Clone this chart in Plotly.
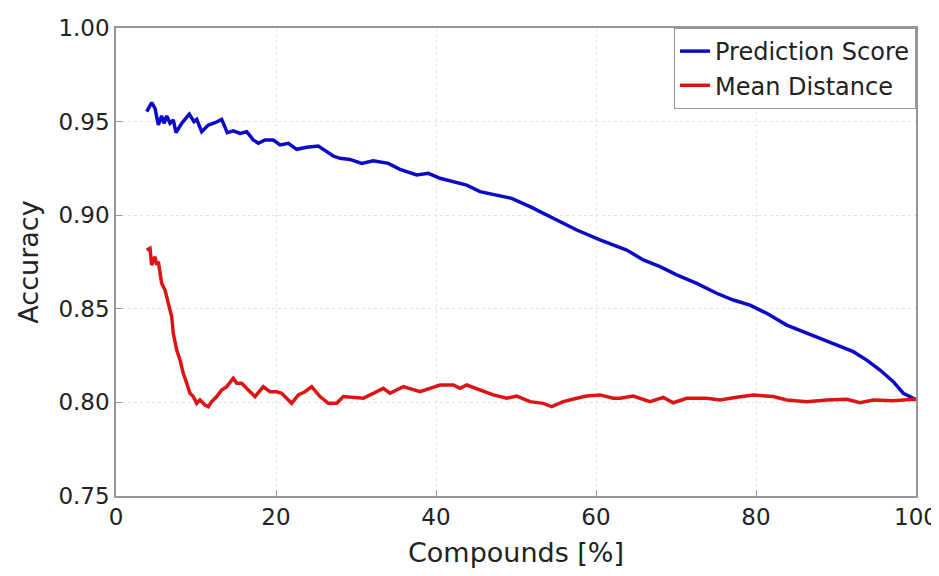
import plotly.graph_objects as go

# Prediction Score curve (x in %, accuracy)
pred_x = [3.84, 4.46, 4.88, 5.29, 5.71, 6.0, 6.34, 6.75, 7.16, 7.5,
          8.21, 9.16, 9.75, 10.09, 10.71, 11.54, 12.38, 13.21, 13.91, 14.66,
          15.5, 16.34, 17.16, 17.79, 18.63, 19.66, 20.5, 21.54, 22.59, 23.84,
          25.29, 26.13, 27.16, 28.0,
          29.25, 30.71, 32.16, 34.04, 35.5, 37.59, 39.04, 40.5, 42.16, 43.84,
          45.5, 47.59, 49.46, 51.75, 53.84, 55.91, 57.59,
          60.5, 62.16, 63.84, 65.91, 68.0, 70.09, 72.59, 75.09, 77.16, 79.25,
          81.34, 83.84, 85.91, 88.0, 90.09, 92.16, 93.84, 95.5, 97.16, 98.41,
          99.66, 100]
pred_y = [0.9553, 0.9601, 0.9571, 0.9482, 0.953, 0.9491, 0.953, 0.9491, 0.9509, 0.9441,
          0.9491, 0.954, 0.95, 0.9512, 0.9446, 0.9482, 0.9494, 0.9512, 0.9441, 0.9451,
          0.9437, 0.9446, 0.9402, 0.9384, 0.9402, 0.9402, 0.9375, 0.9384, 0.9352, 0.9363,
          0.937, 0.9348, 0.9316, 0.9304,
          0.9298, 0.9277, 0.9291, 0.9277, 0.9245, 0.9215, 0.9224, 0.9197, 0.9179, 0.9161,
          0.9126, 0.9108, 0.909, 0.9046, 0.9001, 0.8957, 0.8921,
          0.8868, 0.8841, 0.8814, 0.8761, 0.8725, 0.8681, 0.8636, 0.8583, 0.8547, 0.852,
          0.8476, 0.8413, 0.8378, 0.8342, 0.8307, 0.8271, 0.8226, 0.8173, 0.8111, 0.8049,
          0.8022, 0.8015]

# Mean Distance curve
dist_x = [3.84, 4.25, 4.46, 4.88, 5.09, 5.29, 5.71, 6.13, 6.54, 6.96,
          7.16, 7.59, 8.0, 8.41, 8.84, 9.25, 9.66, 10.09, 10.5, 11.13,
          11.54, 11.96, 12.59, 13.21, 13.84, 14.66, 15.09, 15.71, 16.54, 17.38,
          18.41, 19.25, 20.09, 20.71, 21.96, 22.79, 23.63, 24.46, 25.5, 26.54,
          27.59,
          28.41, 30.91, 33.41, 34.25, 35.91, 38.0, 40.5, 42.16, 43.0, 43.84,
          45.5, 47.16, 48.84, 50.09, 51.75, 53.41, 54.46, 55.91, 57.59, 58.84,
          60.5, 62.16,
          63.0, 64.66, 66.75, 68.41, 69.66, 71.34, 73.84, 75.5, 77.59, 79.66,
          82.16, 83.84, 86.34, 88.84, 91.34, 93.0, 94.66, 97.16, 99.66, 100]
dist_y = [0.8814, 0.8823, 0.8734, 0.8778, 0.8734, 0.8752, 0.8636, 0.86, 0.8529, 0.8458,
          0.8369, 0.828, 0.8227, 0.8155, 0.8102, 0.8049, 0.8031, 0.7995, 0.8013, 0.7986,
          0.7977, 0.8004, 0.8031, 0.8066, 0.8084, 0.8129, 0.8102, 0.8102, 0.8066, 0.8031,
          0.8084, 0.8057, 0.8057, 0.8049, 0.7995, 0.804, 0.8057, 0.8084, 0.8031, 0.7995,
          0.7995,
          0.8031, 0.8022, 0.8075, 0.8049, 0.8084, 0.8057, 0.8093, 0.8093, 0.8075, 0.8093,
          0.8066, 0.804, 0.8022, 0.8034, 0.8004, 0.7995, 0.7977, 0.8004, 0.8022, 0.8034,
          0.804, 0.8022,
          0.8022, 0.8034, 0.8004, 0.8027, 0.7998, 0.8022, 0.8022, 0.8013, 0.8027, 0.804,
          0.8031, 0.8013, 0.8004, 0.8013, 0.8017, 0.7998, 0.8013, 0.8009, 0.8017, 0.8015]

x_ticks = [0, 20, 40, 60, 80, 100]
y_ticks = [0.75, 0.80, 0.85, 0.90, 0.95, 1.00]
y_labels = ["0.75", "0.80", "0.85", "0.90", "0.95", "1.00"]

data = [
    go.Scatter(x=pred_x, y=pred_y, mode="lines", name="Prediction Score",
               line=dict(color="rgb(10,10,200)", width=3.5)),
    go.Scatter(x=dist_x, y=dist_y, mode="lines", name="Mean Distance",
               line=dict(color="rgb(220,20,20)", width=3.5)),
]

axis_common = dict(
    showline=True, mirror=True, linecolor="rgb(150,150,150)", linewidth=1.5,
    ticks="inside", ticklen=6, tickcolor="rgb(150,150,150)",
    showgrid=True, gridcolor="rgb(228,228,228)", griddash="dot", gridwidth=1,
    zeroline=False, automargin=False, tickfont=dict(size=23, color="#222"),
)

# page body has an 8px margin, so the figure is a bit smaller than the window
layout = go.Layout(
    width=931, height=568,
    margin=dict(l=108, r=23, t=20, b=80),
    paper_bgcolor="white", plot_bgcolor="white",
    font=dict(family="DejaVu Sans, sans-serif", color="#222"),
    xaxis=dict(range=[0, 100], tickvals=x_ticks,
               title=dict(text="Compounds [%]", font=dict(size=27), standoff=14),
               **axis_common),
    yaxis=dict(range=[0.75, 1.0], tickvals=y_ticks, ticktext=y_labels,
               title=dict(text="Accuracy", font=dict(size=27), standoff=12),
               **axis_common),
    legend=dict(x=1, y=1, xanchor="right", yanchor="top",
                bgcolor="white", bordercolor="rgb(150,150,150)", borderwidth=1,
                font=dict(size=24, color="#222"), tracegroupgap=0),
    showlegend=True,
)

fig = go.Figure(data=data, layout=layout)
fig.write_html("out.html")
